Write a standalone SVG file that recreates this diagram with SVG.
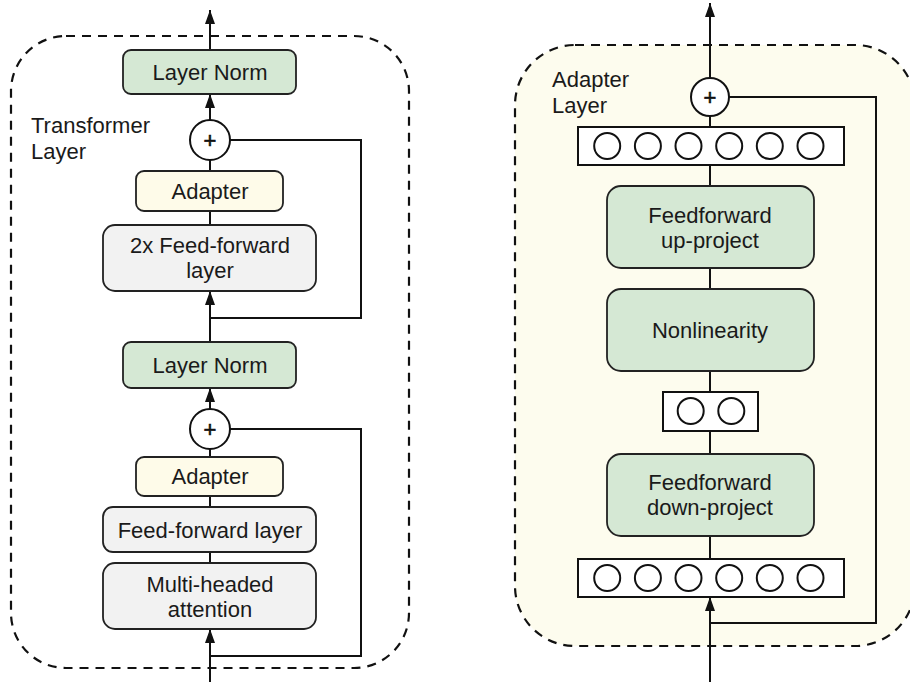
<svg xmlns="http://www.w3.org/2000/svg" width="910" height="682" viewBox="0 0 910 682">
<defs>
<style>
.t{font-family:"Liberation Sans",Arial,Helvetica,sans-serif;font-size:22px;fill:#1a1a1a;text-anchor:middle}
.lab{font-family:"Liberation Sans",Arial,Helvetica,sans-serif;font-size:22px;fill:#1a1a1a;text-anchor:start}
.plus{font-family:"Liberation Sans",Arial,sans-serif;font-size:22px;fill:#111;stroke:#111;stroke-width:0.6;text-anchor:middle}
.green{fill:#d5e8d4;stroke:#222;stroke-width:1.8}
.yellow{fill:#fefbe9;stroke:#222;stroke-width:1.8}
.grey{fill:#f2f2f2;stroke:#222;stroke-width:1.8}
.vec{fill:#fff;stroke:#111;stroke-width:2}
.unit{fill:#fff;stroke:#111;stroke-width:2}
.sum{fill:#fff;stroke:#111;stroke-width:2}
.dash{stroke:#111;stroke-width:2.2;stroke-dasharray:9 7}
.c{fill:none;stroke:#111;stroke-width:2}
</style>
<marker id="ah" viewBox="0 0 14 10" refX="14" refY="5" markerWidth="14" markerHeight="10" markerUnits="userSpaceOnUse" orient="auto">
<path d="M0,0 L14,5 L0,10 z" fill="#111"/>
</marker>
</defs>
<rect width="910" height="682" fill="#fff"/>

<g id="transformer-layer-frame">
<rect x="11" y="36" width="398" height="632" rx="55" fill="none" class="dash"/>
<text class="lab" x="31" y="133">Transformer</text>
<text class="lab" x="31" y="159">Layer</text>
</g>

<g id="adapter-layer-frame">
<rect x="515" y="45" width="400" height="601" rx="60" fill="#fdfcee" class="dash"/>
<text class="lab" x="552" y="87">Adapter</text>
<text class="lab" x="552" y="113">Layer</text>
</g>

<g id="connectors">
<line class="c" x1="210" y1="50" x2="210" y2="10" marker-end="url(#ah)"/>
<line class="c" x1="210" y1="120" x2="210" y2="94" marker-end="url(#ah)"/>
<line class="c" x1="210" y1="160" x2="210" y2="171"/>
<line class="c" x1="210" y1="211" x2="210" y2="225"/>
<line class="c" x1="210" y1="342" x2="210" y2="291" marker-end="url(#ah)"/>
<path class="c" d="M210,318 H361 V140 H230"/>
<line class="c" x1="210" y1="409" x2="210" y2="388" marker-end="url(#ah)"/>
<line class="c" x1="210" y1="449" x2="210" y2="457"/>
<line class="c" x1="210" y1="496" x2="210" y2="507"/>
<line class="c" x1="210" y1="552" x2="210" y2="563"/>
<line class="c" x1="210" y1="682" x2="210" y2="629" marker-end="url(#ah)"/>
<path class="c" d="M210,656 H361 V429 H230"/>

<line class="c" x1="710" y1="78" x2="710" y2="3" marker-end="url(#ah)"/>
<line class="c" x1="710" y1="116" x2="710" y2="127"/>
<line class="c" x1="710" y1="165" x2="710" y2="186"/>
<line class="c" x1="710" y1="268" x2="710" y2="289"/>
<line class="c" x1="710" y1="371" x2="710" y2="392"/>
<line class="c" x1="710" y1="431" x2="710" y2="454"/>
<line class="c" x1="710" y1="536" x2="710" y2="559"/>
<line class="c" x1="710" y1="682" x2="710" y2="597" marker-end="url(#ah)"/>
<path class="c" d="M710,623 H876 V97 H729"/>
</g>

<g id="layer-norm-top">
<rect class="green" x="123" y="50" width="173" height="44" rx="8"/>
<text class="t" x="210" y="80">Layer Norm</text>
</g>
<g id="sum-top">
<circle class="sum" cx="210" cy="140" r="20"/>
<text class="plus" x="210" y="148">+</text>
</g>
<g id="adapter-top">
<rect class="yellow" x="136" y="171" width="147" height="40" rx="8"/>
<text class="t" x="210" y="199">Adapter</text>
</g>
<g id="ff2x">
<rect class="grey" x="103" y="225" width="213" height="66" rx="12"/>
<text class="t" x="210" y="253">2x Feed-forward</text>
<text class="t" x="210" y="278">layer</text>
</g>
<g id="layer-norm-bottom">
<rect class="green" x="123" y="342" width="173" height="46" rx="8"/>
<text class="t" x="210" y="373">Layer Norm</text>
</g>
<g id="sum-bottom">
<circle class="sum" cx="210" cy="429" r="20"/>
<text class="plus" x="210" y="437">+</text>
</g>
<g id="adapter-bottom">
<rect class="yellow" x="136" y="457" width="147" height="39" rx="8"/>
<text class="t" x="210" y="484">Adapter</text>
</g>
<g id="ff-layer">
<rect class="grey" x="103" y="507" width="213" height="45" rx="10"/>
<text class="t" x="210" y="538">Feed-forward layer</text>
</g>
<g id="mha">
<rect class="grey" x="103" y="563" width="213" height="66" rx="12"/>
<text class="t" x="210" y="592">Multi-headed</text>
<text class="t" x="210" y="617">attention</text>
</g>

<g id="adapter-sum">
<circle class="sum" cx="710" cy="97" r="19"/>
<text class="plus" x="710" y="105">+</text>
</g>
<g id="vector-top">
<rect class="vec" x="578" y="127" width="266" height="38"/>
<circle class="unit" cx="607.2" cy="146" r="13"/>
<circle class="unit" cx="647.9" cy="146" r="13"/>
<circle class="unit" cx="688.5" cy="146" r="13"/>
<circle class="unit" cx="729.2" cy="146" r="13"/>
<circle class="unit" cx="769.8" cy="146" r="13"/>
<circle class="unit" cx="810.5" cy="146" r="13"/>
</g>
<g id="ff-up">
<rect class="green" x="607" y="186" width="207" height="82" rx="14"/>
<text class="t" x="710" y="223">Feedforward</text>
<text class="t" x="710" y="248">up-project</text>
</g>
<g id="nonlinearity">
<rect class="green" x="607" y="289" width="207" height="82" rx="14"/>
<text class="t" x="710" y="338">Nonlinearity</text>
</g>
<g id="vector-mid">
<rect class="vec" x="663" y="392" width="95" height="39"/>
<circle class="unit" cx="690.7" cy="411" r="13"/>
<circle class="unit" cx="731.3" cy="411" r="13"/>
</g>
<g id="ff-down">
<rect class="green" x="607" y="454" width="207" height="82" rx="14"/>
<text class="t" x="710" y="490">Feedforward</text>
<text class="t" x="710" y="515">down-project</text>
</g>
<g id="vector-bottom">
<rect class="vec" x="578" y="559" width="266" height="38"/>
<circle class="unit" cx="607.2" cy="578" r="13"/>
<circle class="unit" cx="647.9" cy="578" r="13"/>
<circle class="unit" cx="688.5" cy="578" r="13"/>
<circle class="unit" cx="729.2" cy="578" r="13"/>
<circle class="unit" cx="769.8" cy="578" r="13"/>
<circle class="unit" cx="810.5" cy="578" r="13"/>
</g>
</svg>
